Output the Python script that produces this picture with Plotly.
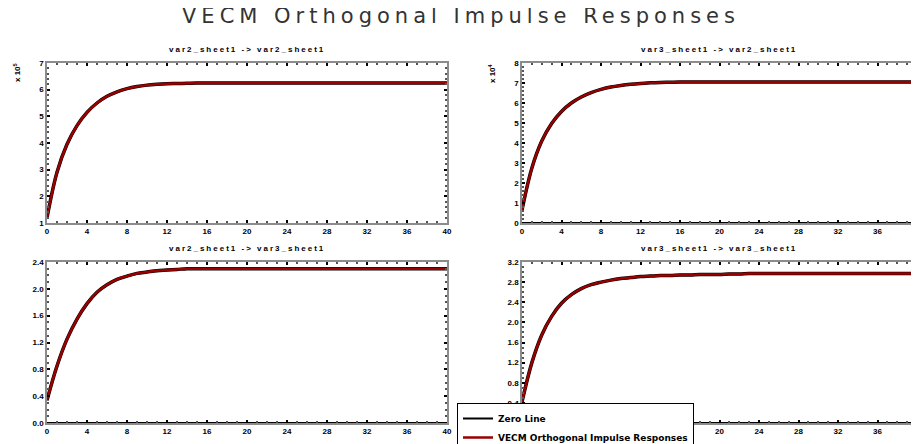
import plotly.graph_objects as go

# =========================
# Data
# =========================
horizons = list(range(0, 41))

resp_var2_var2 = [1.20, 2.90, 3.95, 4.65, 5.15, 5.50, 5.75, 5.92, 6.04, 6.12,
                  6.17, 6.20, 6.22, 6.23, 6.24] + [6.25] * 26
resp_var3_var2 = [0.65, 2.75, 4.10, 4.98, 5.58, 6.00, 6.30, 6.52, 6.68, 6.80,
                  6.88, 6.94, 6.98, 7.01, 7.03, 7.04] + [7.05] * 25
resp_var2_var3 = [0.34, 0.85, 1.25, 1.55, 1.78, 1.95, 2.06, 2.14, 2.19, 2.23,
                  2.25, 2.27, 2.28, 2.29] + [2.30] * 27
resp_var3_var3 = [0.42, 1.20, 1.75, 2.12, 2.38, 2.55, 2.67, 2.75, 2.80, 2.84,
                  2.87, 2.89, 2.91, 2.92, 2.93, 2.93, 2.94, 2.94, 2.95, 2.95,
                  2.95, 2.96, 2.96, 2.97] + [2.97] * 17

panel_titles = [
    "var2_sheet1 -> var2_sheet1",
    "var3_sheet1 -> var2_sheet1",
    "var2_sheet1 -> var3_sheet1",
    "var3_sheet1 -> var3_sheet1",
]
responses = [resp_var2_var2, resp_var3_var2, resp_var2_var3, resp_var3_var3]
y_ranges = [[1, 7], [0, 8], [0, 2.4], [0, 3.2]]
y_dticks = [1, 1, 0.4, 0.4]
y_formats = ["d", "d", ".1f", ".1f"]
exponents = ["x 10<sup>5</sup>", "x 10<sup>4</sup>", None, None]

# =========================
# Geometry: page pixels -> paper fractions (page body has an 8px margin)
# =========================
OFF = 8
W, H = 919 - OFF, 444 - OFF


def px(x):
    return (x - OFF) / W


def py(y):
    return 1 - (y - OFF) / H


x_doms = [[px(47), px(447)], [px(522), px(917)]]
y_doms = [[py(223), py(63)], [py(423), py(262)]]

RED = "#990000"
AX_COLOR = "#8c8c8c"
TICK_FONT = dict(family="Arial", size=8, color="black", weight="bold")

fig = go.Figure()
layout_axes = {}
annotations = []

for i in range(4):
    row, col = divmod(i, 2)
    n = "" if i == 0 else str(i + 1)
    xa, ya = "x" + n, "y" + n

    # zero line
    fig.add_trace(go.Scatter(
        x=[horizons[0], horizons[-1]], y=[0, 0], xaxis=xa, yaxis=ya,
        mode="lines", line=dict(color="black", width=2),
        name="Zero Line", showlegend=(i == 0), legendrank=1,
    ))
    # dark edge under the response
    fig.add_trace(go.Scatter(
        x=horizons, y=responses[i], xaxis=xa, yaxis=ya,
        mode="lines", line=dict(color="black", width=3.5, shape="spline"),
        showlegend=False, hoverinfo="skip",
    ))
    fig.add_trace(go.Scatter(
        x=horizons, y=responses[i], xaxis=xa, yaxis=ya,
        mode="lines", line=dict(color=RED, width=2.5, shape="spline"),
        name="VECM Orthogonal Impulse Responses", showlegend=(i == 0), legendrank=2,
    ))

    common = dict(
        showline=True, linecolor=AX_COLOR, linewidth=1.5, mirror="allticks",
        ticks="inside", ticklen=3, tickcolor="black", tickwidth=1.5,
        showgrid=False, zeroline=False, tickfont=TICK_FONT,
        minor=dict(ticks="inside", ticklen=2, tickcolor="#555555"),
    )
    layout_axes["xaxis" + n] = dict(
        common, domain=x_doms[col], anchor=ya, range=[0, 40],
        tickmode="linear", tick0=0, dtick=4,
    )
    layout_axes["yaxis" + n] = dict(
        common, domain=y_doms[row], anchor=xa, range=y_ranges[i],
        tickmode="linear", tick0=0, dtick=y_dticks[i], tickformat=y_formats[i],
    )

    annotations.append(dict(
        text=panel_titles[i], xref="paper", yref="paper",
        x=sum(x_doms[col]) / 2, y=y_doms[row][1] + 13 / H,
        xanchor="center", yanchor="middle", showarrow=False,
        font=dict(family="Arial", size=8, color="black", weight="bold"),
    ))
    if exponents[i]:
        annotations.append(dict(
            text=exponents[i], xref="paper", yref="paper",
            x=x_doms[col][0] - 30 / W, y=y_doms[row][1] - 10 / H,
            xanchor="center", yanchor="middle", showarrow=False, textangle=-90,
            font=dict(family="Arial", size=8, color="black", weight="bold"),
        ))

fig.update_layout(
    width=W, height=H,
    margin=dict(l=0, r=0, t=0, b=0, autoexpand=False),
    paper_bgcolor="white", plot_bgcolor="white",
    title=dict(
        text="VECM Orthogonal Impulse Responses", x=px(461), y=py(16),
        xanchor="center", yanchor="middle",
        font=dict(family="DejaVu Sans", size=21, color="#333333"),
    ),
    legend=dict(
        x=px(457), y=py(403), xanchor="left", yanchor="top",
        bgcolor="white", bordercolor="black", borderwidth=1,
        font=dict(family="DejaVu Sans", size=9, color="black", weight="bold"),
        itemwidth=30, tracegroupgap=0,
    ),
    annotations=annotations,
    **layout_axes,
)

# the reference uses widely spaced lettering in the titles
spacing_js = """
document.querySelectorAll('.gtitle').forEach(function (e) { e.style.letterSpacing = '5px'; });
document.querySelectorAll('.annotation-text').forEach(function (e) {
    if (e.textContent.indexOf('->') >= 0) { e.style.letterSpacing = '2px'; }
});
"""

fig.write_html("out.html", post_script=spacing_js)
